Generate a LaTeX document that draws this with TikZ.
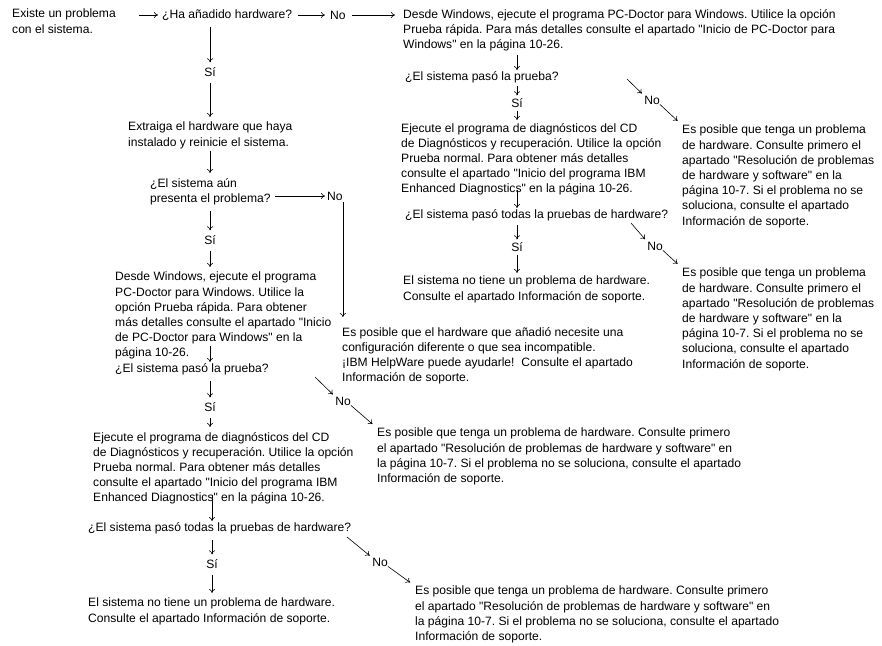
\documentclass[tikz,border=0pt]{standalone}
\usepackage{fontspec}
\newfontfamily\arialfont{Liberation Sans}
\usepackage{tikz}
\usetikzlibrary{arrows.meta, positioning, calc}
\frenchspacing

\tikzset{
  txt/.style={align=left, inner sep=0pt, anchor=north west, font=\arialfont\fontsize{12.1}{15.2}\selectfont},
  lbl/.style={inner sep=0pt, font=\arialfont\fontsize{12.1}{15.2}\selectfont},
  flow/.style={->, semithick, shorten <=6pt, shorten >=5pt},
  >={To[length=4pt,width=6pt]}
}

\begin{document}
\begin{tikzpicture}[x=1pt, y=-1pt]
    \useasboundingbox (0,0) rectangle (882,645);

    % Left column
    \node[txt] (existe) at (12,9) {Existe un problema\\con el sistema.};
    \node[lbl, anchor=west] (ha) at (162,15) {¿Ha añadido hardware?};
    \node[lbl, anchor=west] (no1) at (330,15) {No};
    \node[lbl] (si1) at (210,72) {Sí};
    \node[txt] (ext) at (128,122) {Extraiga el hardware que haya\\instalado y reinicie el sistema.};
    \node[txt] (aun) at (150,178) {¿El sistema aún\\presenta el problema?};
    \node[lbl, anchor=west] (no2) at (327,196) {No};
    \node[lbl] (si2) at (210,240) {Sí};
    \node[txt] (pcd2) at (115,272) {Desde Windows, ejecute el programa\\PC-Doctor para Windows. Utilice la\\opción Prueba rápida. Para obtener\\más detalles consulte el apartado "Inicio\\de PC-Doctor para Windows" en la\\página 10-26.};
    \node[txt] (cfg) at (342,327) {Es posible que el hardware que añadió necesite una\\configuración diferente o que sea incompatible.\\¡IBM HelpWare puede ayudarle!\ \ Consulte el apartado\\Información de soporte.};
    \node[lbl, anchor=west] (q3) at (115,369) {¿El sistema pasó la prueba?};
    \node[lbl] (si3) at (210,407) {Sí};
    \node[lbl] (no3) at (343,401) {No};
    \node[txt] (ejec2) at (93,432) {Ejecute el programa de diagnósticos del CD\\de Diagnósticos y recuperación. Utilice la opción\\Prueba normal. Para obtener más detalles\\consulte el apartado "Inicio del programa IBM\\Enhanced Diagnostics" en la página 10-26.};
    \node[txt] (tenga3) at (377,428) {Es posible que tenga un problema de hardware. Consulte primero\\el apartado "Resolución de problemas de hardware y software" en\\la página 10-7. Si el problema no se soluciona, consulte el apartado\\Información de soporte.};
    \node[lbl, anchor=west] (q4) at (88,528) {¿El sistema pasó todas la pruebas de hardware?};
    \node[lbl] (si4) at (212,564) {Sí};
    \node[lbl] (no4) at (380,562) {No};
    \node[txt] (nohw2) at (88,598) {El sistema no tiene un problema de hardware.\\Consulte el apartado Información de soporte.};
    \node[txt] (tenga4) at (415,586) {Es posible que tenga un problema de hardware. Consulte primero\\el apartado "Resolución de problemas de hardware y software" en\\la página 10-7. Si el problema no se soluciona, consulte el apartado\\Información de soporte.};

    % Right column
    \node[txt] (pcd1) at (403,9) {Desde Windows, ejecute el programa PC-Doctor para Windows. Utilice la opción\\Prueba rápida. Para más detalles consulte el apartado "Inicio de PC-Doctor para\\Windows" en la página 10-26.};
    \node[lbl, anchor=west] (q1) at (405,77) {¿El sistema pasó la prueba?};
    \node[lbl] (si5) at (517,103) {Sí};
    \node[lbl] (no5) at (652,100) {No};
    \node[txt] (ejec1) at (401,123) {Ejecute el programa de diagnósticos del CD\\de Diagnósticos y recuperación. Utilice la opción\\Prueba normal. Para obtener más detalles\\consulte el apartado "Inicio del programa IBM\\Enhanced Diagnostics" en la página 10-26.};
    \node[txt] (tenga1) at (682,125) {Es posible que tenga un problema\\de hardware. Consulte primero el\\apartado "Resolución de problemas\\de hardware y software" en la\\página 10-7. Si el problema no se\\soluciona, consulte el apartado\\Información de soporte.};
    \node[lbl, anchor=west] (q2) at (405,215) {¿El sistema pasó todas la pruebas de hardware?};
    \node[lbl] (si6) at (517,247) {Sí};
    \node[lbl] (no6) at (655,246) {No};
    \node[txt] (nohw1) at (403,276) {El sistema no tiene un problema de hardware.\\Consulte el apartado Información de soporte.};
    \node[txt] (tenga2) at (682,268) {Es posible que tenga un problema\\de hardware. Consulte primero el\\apartado "Resolución de problemas\\de hardware y software" en la\\página 10-7. Si el problema no se\\soluciona, consulte el apartado\\Información de soporte.};

    % free starts of the diagonal arrows
    \coordinate (d3) at (315,377);
    \coordinate (d4) at (347,537);
    \coordinate (d5) at (627,79);
    \coordinate (d6) at (631,223);

    % Connectors
    \draw[flow, shorten <=23pt, shorten >=4pt] (existe.east |- ha.west) -- (ha.west);
    \draw[flow, shorten <=6pt] (ha.east) -- (no1.west);
    \draw[flow, shorten <=6pt, shorten >=8pt] (no1.east) -- (no1.east -| pcd1.west);
    \draw[flow] (ha.south -| si1) -- (si1);
    \draw[flow] (si1) -- (ext.north -| si1);
    \draw[flow, shorten <=2pt] (ext.south -| si1) -- (aun.north -| si1);
    \draw[flow, shorten <=4pt, shorten >=2pt] (aun.east |- no2) -- (no2.west);
    \draw[flow, shorten <=6pt, shorten >=10pt] (no2.east) -- (no2.east |- cfg.north);
    \draw[flow] (aun.south -| si2) -- (si2);
    \draw[flow] (si2) -- (pcd2.north -| si2);
    \draw[flow, shorten <=0pt, shorten >=1pt] ([yshift=14pt]pcd2.south -| si3) -- (q3.north -| si3);
    \draw[flow] (q3.south -| si3) -- (si3);
    \draw[flow] (si3) -- (ejec2.north -| si3);
    \draw[flow, shorten <=0pt, shorten >=3pt] (d3) -- (no3.north west);
    \draw[flow, shorten <=0pt, shorten >=6pt] (no3.south east) -- (tenga3.north west);
    \draw[flow, shorten <=0pt, shorten >=1pt] ([yshift=10pt]ejec2.south -| si4) -- (q4.north -| si4);
    \draw[flow] (q4.south -| si4) -- (si4);
    \draw[flow] (si4) -- (nohw2.north -| si4);
    \draw[flow, shorten <=0pt, shorten >=3pt] (d4) -- (no4.north west);
    \draw[flow, shorten <=0pt, shorten >=6pt] (no4.south east) -- (tenga4.north west);

    \draw[flow, shorten <=4pt, shorten >=1pt] (pcd1.south -| si5) -- (q1.north -| si5);
    \draw[flow, shorten <=3pt, shorten >=3pt] (q1.south -| si5) -- (si5);
    \draw[flow, shorten <=3pt, shorten >=3pt] (si5) -- (ejec1.north -| si5);
    \draw[flow, shorten <=0pt, shorten >=3pt] (d5) -- (no5.north west);
    \draw[flow, shorten <=0pt, shorten >=6pt] (no5.south east) -- (tenga1.north west);
    \draw[flow, shorten <=0pt, shorten >=1pt] ([yshift=6pt]ejec1.south -| si6) -- (q2.north -| si6);
    \draw[flow, shorten <=4pt, shorten >=3pt] (q2.south -| si6) -- (si6);
    \draw[flow, shorten <=3pt, shorten >=3pt] (si6) -- (nohw1.north -| si6);
    \draw[flow, shorten <=0pt, shorten >=3pt] (d6) -- (no6.north west);
    \draw[flow, shorten <=0pt, shorten >=6pt] (no6.south east) -- (tenga2.north west);
\end{tikzpicture}
\end{document}
